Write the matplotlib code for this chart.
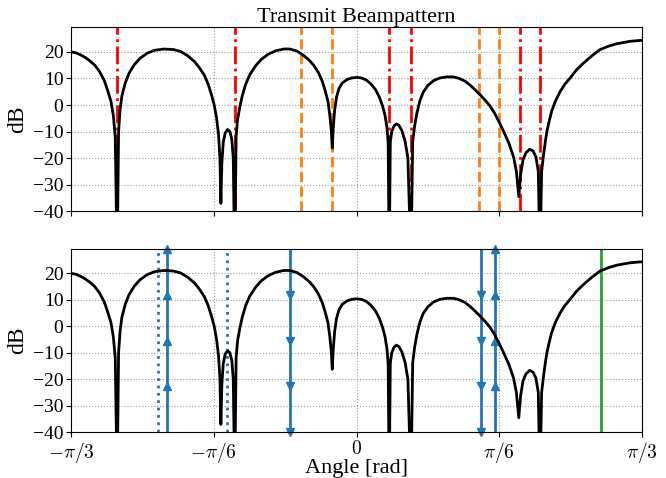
import numpy as np
import matplotlib
matplotlib.use('Agg')
import matplotlib.pyplot as plt

plt.rcParams['font.family'] = ['Liberation Serif', 'DejaVu Serif']
plt.rcParams['mathtext.fontset'] = 'cm'

# beampattern (angle in degrees, level in dB)
angle_deg = [-60.0, -59.0, -58.0, -57.0, -56.0, -55.0, -54.0, -53.0, -52.3, -51.6,
             -51.1, -50.7, -50.3, -50.0, -49.7, -49.3, -48.6, -47.8, -46.7, -45.5,
             -44.0, -42.5, -40.5, -38.5, -37.0, -35.5, -34.0, -33.0, -32.0, -31.2,
             -30.5, -29.9, -29.4, -29.0, -28.7, -28.5, -28.3, -28.0, -27.6, -27.1,
             -26.6, -26.2, -25.9, -25.6, -25.3, -25.0, -24.5, -24.0, -23.3, -22.4,
             -21.2, -20.0, -18.5, -17.0, -15.3, -14.0, -12.5, -11.2, -10.0, -9.0,
             -8.0, -7.2, -6.6, -6.0, -5.6, -5.3, -5.1, -4.9, -4.6, -4.2,
             -3.7, -3.0, -2.0, -1.0, 0.0, 1.0, 2.0, 3.0, 4.0, 4.8,
             5.5, 6.0, 6.4, 6.65, 6.87, 7.1, 7.4, 7.9, 8.4, 8.9,
             9.5, 10.2, 10.8, 11.45, 11.8, 12.2, 12.7, 13.3, 14.0, 15.0,
             16.2, 17.5, 19.0, 20.3, 21.5, 22.8, 24.0, 25.0, 26.0, 27.0,
             28.0, 29.0, 30.0, 31.0, 32.0, 33.0, 33.6, 34.1, 34.5, 35.0,
             35.6, 36.4, 37.1, 37.7, 38.2, 38.55, 38.9, 39.3, 39.7, 40.0,
             40.5, 41.0, 41.8, 42.8, 43.8, 44.9, 46.2, 47.7, 49.5, 51.2,
             53.0, 54.7, 57.5, 60.0]
level_db = [20.0, 19.7, 18.9, 17.9, 16.6, 15.0, 12.6, 9.2, 5.5, 1.4,
            -4.0, -12.0, -60.0, -10.0, -2.0, 3.5, 8.3, 12.0, 15.2, 17.6,
            19.5, 20.6, 21.1, 20.9, 20.2, 18.6, 16.3, 14.0, 11.3, 8.0,
            4.0, 0.0, -5.0, -11.0, -20.0, -37.0, -22.0, -14.0, -10.5, -9.2,
            -10.0, -13.0, -20.0, -60.0, -12.0, -5.5, -0.5, 3.5, 7.8, 11.5,
            14.8, 17.2, 19.2, 20.4, 21.1, 21.1, 20.3, 18.8, 17.0, 15.0,
            12.2, 9.0, 5.5, 1.4, -4.0, -9.5, -16.2, -9.0, -2.0, 3.0,
            6.2, 8.3, 9.6, 10.2, 10.4, 10.2, 9.5, 8.0, 5.8, 3.0,
            -0.5, -4.0, -8.5, -14.0, -60.0, -14.0, -10.0, -7.8, -7.1, -7.6,
            -9.5, -13.5, -20.0, -60.0, -14.0, -8.0, -3.0, 1.5, 4.8, 7.4,
            9.2, 10.2, 10.6, 10.6, 10.1, 9.0, 7.3, 5.6, 3.8, 1.9,
            -0.2, -3.0, -6.5, -10.3, -14.3, -19.5, -25.0, -34.5, -26.0, -20.5,
            -18.0, -16.6, -17.3, -19.5, -25.0, -60.0, -25.0, -18.8, -13.5, -10.0,
            -6.0, -2.4, 1.5, 5.1, 7.9, 10.2, 13.2, 15.8, 18.6, 20.9,
            22.2, 23.1, 24.0, 24.4]

# markers in the top panel
red_deg = [-50.31, -25.57, 6.87, 11.49, 34.41, 38.49]
orange_deg = [-11.64, -5.18, 25.66, 29.93]

# markers in the bottom panel
dotted_deg = [-41.8, -27.3]
up_deg = [-39.9, 29.2]
down_deg = [-14.0, 26.1]
green_deg = [51.3]

theta = np.deg2rad(angle_deg)
ylim = (-40, 29.3)

fig = plt.figure(figsize=(6.66, 4.78), dpi=100)
ax1 = fig.add_axes([0.1066, 0.558, 0.8574, 0.385])
ax2 = fig.add_axes([0.1066, 0.0956, 0.8574, 0.384])

xt = [-np.pi / 3, -np.pi / 6, 0, np.pi / 6, np.pi / 3]
xtl = [r'$-\pi/3$', r'$-\pi/6$', r'$0$', r'$\pi/6$', r'$\pi/3$']

for ax in (ax1, ax2):
    ax.plot(theta, level_db, color='k', lw=2, zorder=5,
            solid_joinstyle='round', solid_capstyle='round')
    ax.set_xlim(-np.pi / 3, np.pi / 3)
    ax.set_ylim(*ylim)
    ax.set_yticks([-40, -30, -20, -10, 0, 10, 20])
    ax.set_xticks(xt)
    ax.grid(True, ls=':', color='0.6', lw=0.8)
    ax.set_ylabel('dB', fontsize=17, labelpad=3)
    ax.tick_params(labelsize=14, pad=2)

ax1.set_xticklabels([])
ax2.set_xticklabels(xtl)
ax2.set_xlabel('Angle [rad]', fontsize=16, labelpad=-4)
ax1.set_title('Transmit Beampattern', fontsize=16, pad=3)

for a in red_deg:
    ax1.axvline(np.deg2rad(a), color='r', ls='-.', lw=2)
for a in orange_deg:
    ax1.axvline(np.deg2rad(a), color='tab:orange', ls='--', lw=2)

quarters = np.linspace(ylim[0], ylim[1], 5)
for a in dotted_deg:
    ax2.axvline(np.deg2rad(a), color='tab:blue', ls=':', lw=2)
for a in up_deg:
    x = np.deg2rad(a)
    ax2.plot([x, x], ylim, color='tab:blue', lw=2)
    ax2.plot([x] * 4, quarters[1:], '^', color='tab:blue', ms=5.5, clip_on=False)
for a in down_deg:
    x = np.deg2rad(a)
    ax2.plot([x, x], ylim, color='tab:blue', lw=2)
    ax2.plot([x] * 4, quarters[:-1], 'v', color='tab:blue', ms=5.5, clip_on=False)
for a in green_deg:
    ax2.axvline(np.deg2rad(a), color='tab:green', lw=2)

fig.savefig('out.png', dpi=100)
